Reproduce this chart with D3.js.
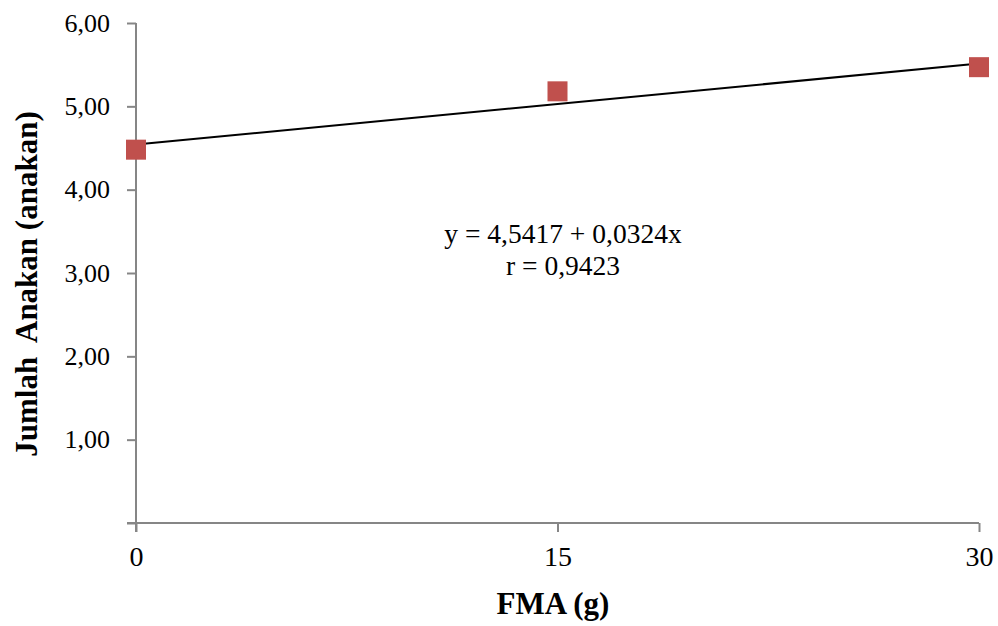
<!DOCTYPE html>
<html>
<head>
<meta charset="utf-8">
<script src="https://cdn.jsdelivr.net/npm/d3@7"></script>
<style>
  body { margin: 0; background: #fff; }
  text { font-family: "Liberation Serif", "Times New Roman", serif; fill: #000; }
</style>
</head>
<body>
<svg width="998" height="626"></svg>
<script>
var svg = d3.select("svg");

// data
var doses = [0, 15, 30];
var tillers = [4.48, 5.18, 5.47];
var yTicks = [0, 1, 2, 3, 4, 5, 6];
var yTickLabels = ["", "1,00", "2,00", "3,00", "4,00", "5,00", "6,00"];
var intercept = 4.5417, slope = 0.0324;
var eqLines = ["y = 4,5417 + 0,0324x", "r = 0,9423"];

var x = d3.scaleLinear().domain([0, 30]).range([136, 979]);
var y = d3.scaleLinear().domain([0, 6]).range([523, 23]);

var axisColor = "#868686";

// y axis
var yAxis = svg.append("g")
    .attr("transform", "translate(" + x(0) + ",0)")
    .call(d3.axisLeft(y).tickValues(yTicks).tickSize(9).tickPadding(17)
        .tickFormat(function(d, i) { return yTickLabels[i]; }));
yAxis.select(".domain").remove();
yAxis.append("line")
    .attr("x1", 0).attr("x2", 0)
    .attr("y1", y(6)).attr("y2", y(0) + 9)
    .attr("stroke", axisColor).attr("stroke-width", 2);
yAxis.selectAll(".tick line").attr("stroke", axisColor).attr("stroke-width", 2);
yAxis.selectAll(".tick text")
    .attr("font-family", "Liberation Serif").attr("font-size", 26).attr("fill", "#000");

// x axis
var xAxis = svg.append("g")
    .attr("transform", "translate(0," + y(0) + ")")
    .call(d3.axisBottom(x).tickValues(doses).tickSize(9).tickPadding(14)
        .tickFormat(d3.format("d")));
xAxis.select(".domain").remove();
xAxis.append("line")
    .attr("x1", x(0) - 9).attr("x2", x(30))
    .attr("y1", 0).attr("y2", 0)
    .attr("stroke", axisColor).attr("stroke-width", 2);
xAxis.selectAll(".tick line").attr("stroke", axisColor).attr("stroke-width", 2);
xAxis.selectAll(".tick text")
    .attr("font-family", "Liberation Serif").attr("font-size", 28).attr("fill", "#000");

// trend line
svg.append("line")
    .attr("x1", x(0)).attr("y1", y(intercept))
    .attr("x2", x(30)).attr("y2", y(intercept + slope * 30))
    .attr("stroke", "#000").attr("stroke-width", 2);

// points
svg.selectAll(".pt")
    .data(doses)
    .enter().append("rect")
    .attr("class", "pt")
    .attr("x", function(d) { return x(d) - 10; })
    .attr("y", function(d, i) { return y(tillers[i]) - 10; })
    .attr("width", 20).attr("height", 20)
    .attr("fill", "#C0504D");

// equation
svg.selectAll(".eq")
    .data(eqLines)
    .enter().append("text")
    .attr("class", "eq")
    .attr("x", 563)
    .attr("y", function(d, i) { return 243 + i * 32; })
    .attr("text-anchor", "middle")
    .attr("font-size", 27.5)
    .text(function(d) { return d; });

// axis titles
svg.append("text")
    .attr("x", 553).attr("y", 614)
    .attr("text-anchor", "middle")
    .attr("font-size", 31).attr("font-weight", "bold")
    .text("FMA (g)");

svg.append("text")
    .attr("transform", "translate(37,284) rotate(-90)")
    .attr("text-anchor", "middle")
    .attr("font-size", 31).attr("font-weight", "bold")
    .attr("xml:space", "preserve")
    .style("white-space", "pre")
    .text("Jumlah  Anakan (anakan)");
</script>
</body>
</html>
